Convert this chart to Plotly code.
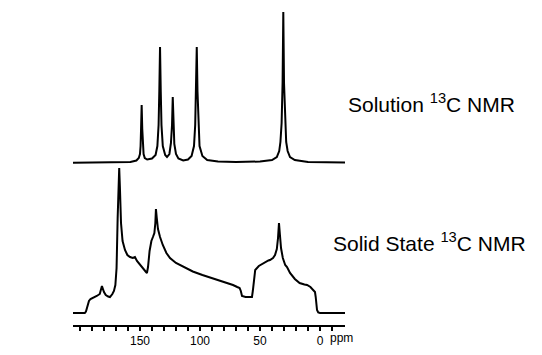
import plotly.graph_objects as go

# Solution 13C NMR spectrum (ppm, intensity)
sol_ppm = [205.8, 170, 158, 153, 151, 150, 149.5, 149.1, 148.6, 148.1, 147.7, 147, 146, 144,
           140, 137, 135.5, 134.5, 133.9, 133.3, 132.7, 132.1, 131, 129, 127.5,
           125.5, 124.2, 123.3, 122.7, 122.1, 121.4, 120, 118, 114,
           110, 107, 105, 104, 103.3, 102.7, 102.1, 101.4, 100.4, 98, 94,
           85, 70, 50, 40, 36, 34, 33, 32, 31.2, 30.6, 30, 29.2, 28.2, 27, 25, 21, 10, -20.8]
sol_int = [0.3, 0.5, 1, 2.5, 5, 9, 17, 34, 58, 34, 17, 9, 5, 3.5,
           4.5, 8, 17, 38, 72, 116, 72, 38, 17, 8, 6,
           9, 20, 38, 66, 38, 19, 9, 4.5, 2.5,
           3.5, 7, 17, 38, 72, 116, 72, 38, 17, 7, 3,
           1.5, 1, 1.5, 3, 6, 12, 21, 40, 80, 151, 80, 40, 21, 12, 6, 3, 1, 0.5]

# Solid state 13C NMR spectrum (ppm, intensity)
ss_ppm = [205.8, 196, 195, 194.2, 192.5, 191.2, 189, 186, 183.5, 181.7, 180, 178.5, 176.5, 175,
          173, 171.7, 170.5, 169.5, 168.6, 167.9, 167.3, 166.7, 165.8, 164.5, 162.5, 160.5,
          158.3, 156, 154.2, 152.5, 150, 147, 145, 144.2, 143.3, 142, 140.5, 139.2, 138, 137.2,
          136.7, 136, 135, 133.3, 131, 128, 125, 120, 113, 106, 98, 90, 82, 75, 72.5, 69, 67,
          66, 65, 62, 58, 56.7, 56, 55, 54, 51, 47, 43, 41.7, 39.2, 37.5, 36, 35, 34.2, 33.4,
          32.5, 31, 29, 27.5, 25, 21, 17, 13, 10.8, 8, 5.5, 4.2, 3.6, 3, 2.5, 1.5, 0, -20.8]
ss_int = [0, 0, 1.5, 5, 12, 14, 15, 17, 19, 27, 21, 18, 16.5, 16,
          19, 22, 28, 45, 95, 135, 145, 125, 90, 72, 63, 58,
          56, 55, 56, 52, 48, 43, 41, 40, 46, 62, 72, 76, 80, 90,
          104, 95, 84, 76, 68, 60, 55, 50, 45.5, 41.5, 38, 35, 32, 29, 28, 26, 25,
          22, 17, 16, 16, 16, 22, 35, 43, 47, 50, 52.5, 53, 55, 58, 64, 75, 90, 78,
          65, 55, 48, 46, 40, 34, 30, 28.5, 28, 26, 23, 21, 16, 9, 3, 0.5, 0, 0]

major_ticks = [0, 50, 100, 150]
minor_ticks = [v for v in range(-10, 201, 10) if v not in major_ticks]

# plot area in pixels
L, R, T, B, W, H = 73, 197, 8, 30, 542, 355
pw, ph = W - L - R, H - T - B


def px(x, y):
    return (x - L) / pw, (H - B - y) / ph


font_family = "Liberation Sans, Arial, sans-serif"
line = dict(color="black", width=2)
fig = go.Figure()
fig.add_trace(go.Scatter(x=sol_ppm, y=sol_int, mode="lines", line=line,
                         yaxis="y2", hoverinfo="skip"))
fig.add_trace(go.Scatter(x=ss_ppm, y=ss_int, mode="lines", line=line,
                         yaxis="y", hoverinfo="skip"))

labels = [("Solution <sup>13</sup>C NMR", 431, 103, 21),
          ("Solid State <sup>13</sup>C NMR", 429, 242, 21),
          ("ppm", 341, 338, 12)]
anns = []
for text, x, y, size in labels:
    ax, ay = px(x, y)
    anns.append(dict(text=text, x=ax, y=ay, xref="paper", yref="paper",
                     xanchor="center", yanchor="middle", showarrow=False,
                     font=dict(size=size, family=font_family, color="black")))

fig.update_layout(
    width=W, height=H,
    margin=dict(l=L, r=R, t=T, b=B),
    paper_bgcolor="white", plot_bgcolor="white",
    showlegend=False,
    font=dict(family=font_family, color="black"),
    xaxis=dict(range=[205.8, -20.8], anchor="y", showgrid=False, zeroline=False,
               showline=True, linecolor="black", linewidth=2,
               tickmode="array", tickvals=major_ticks,
               ticktext=[str(v) for v in major_ticks],
               ticks="outside", ticklen=4, tickwidth=1.5, tickcolor="black",
               tickfont=dict(size=12, family=font_family, color="black"),
               minor=dict(tickmode="array", tickvals=minor_ticks, ticks="outside",
                          ticklen=4, tickwidth=1.5, tickcolor="black", showgrid=False)),
    yaxis=dict(domain=[0, 0.5047], range=[-12, 148], visible=False),
    yaxis2=dict(domain=[0.5047, 1], range=[-2, 155], visible=False),
    annotations=anns,
)

fig.write_html("out.html")
